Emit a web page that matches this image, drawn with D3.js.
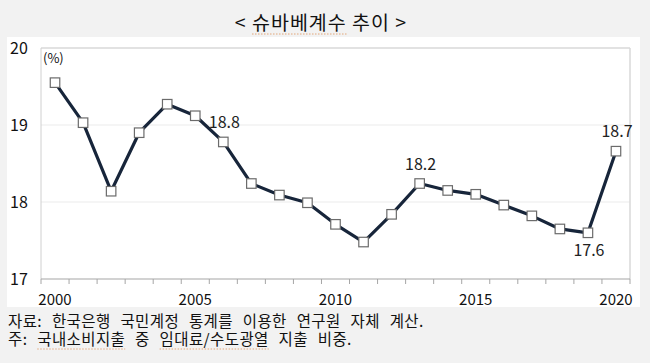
<!DOCTYPE html>
<html>
<head>
<meta charset="utf-8">
<script src="https://cdn.jsdelivr.net/npm/d3@7"></script>
<style>
  html, body { margin: 0; padding: 0; background: #f2f2f2; }
  svg { display: block; font-family: "Noto Sans CJK KR", "Noto Sans", sans-serif; }
</style>
</head>
<body>
<svg id="chart"></svg>
<script>
const width = 650, height = 363;

// data
const years = d3.range(2000, 2021);
const values = [19.55, 19.03, 18.14, 18.90, 19.27, 19.12, 18.78, 18.24, 18.09, 17.99,
                17.71, 17.48, 17.84, 18.24, 18.15, 18.10, 17.96, 17.82, 17.65, 17.60, 18.66];
const yTicks = [17, 18, 19, 20];
const xLabelYears = [2000, 2005, 2010, 2015, 2020];
const callouts = [
  {year: 2006, text: "18.8", pos: "above"},
  {year: 2013, text: "18.2", pos: "above"},
  {year: 2019, text: "17.6", pos: "below"},
  {year: 2020, text: "18.7", pos: "above"}
];
const title = "< 슈바베계수 추이 >";
const notes = ["자료: 한국은행 국민계정 통계를 이용한 연구원 자체 계산.",
               "주: 국내소비지출 중 임대료/수도광열 지출 비중."];

const data = years.map((y, i) => ({year: y, value: values[i]}));

const svg = d3.select("#chart").attr("width", width).attr("height", height);

svg.append("rect").attr("width", width).attr("height", height).attr("fill", "#f2f2f2");
// white chart panel
svg.append("rect").attr("x", 7).attr("y", 37).attr("width", 633).attr("height", 270).attr("fill", "#fff");

const plot = {left: 41, right: 630, top: 48, bottom: 279};

const x = d3.scaleBand().domain(years).range([plot.left, plot.right]).padding(0);
const y = d3.scaleLinear().domain([17, 20]).range([plot.bottom, plot.top]);

// gridlines
svg.append("g")
  .selectAll("line")
  .data(yTicks.filter(d => d > 17))
  .join("line")
  .attr("x1", plot.left).attr("x2", plot.right)
  .attr("y1", d => y(d)).attr("y2", d => y(d))
  .attr("stroke", d => d === 20 ? "#d9d9d9" : "#ebebeb")
  .attr("stroke-width", d => d === 20 ? 1.5 : 1);

// right border
svg.append("line")
  .attr("x1", plot.right).attr("x2", plot.right)
  .attr("y1", plot.top).attr("y2", plot.bottom)
  .attr("stroke", "#d9d9d9").attr("stroke-width", 1.5);

// left axis line
svg.append("line")
  .attr("x1", plot.left).attr("x2", plot.left)
  .attr("y1", plot.top).attr("y2", plot.bottom)
  .attr("stroke", "#d0d0d0").attr("stroke-width", 1);

// y tick labels
svg.append("g")
  .selectAll("text")
  .data(yTicks)
  .join("text")
  .attr("x", 10)
  .attr("y", d => y(d) + 6)
  .attr("font-size", 16)
  .attr("fill", "#111")
  .text(d => d);

// x axis with ticks at band edges
const xAxis = svg.append("g").attr("transform", `translate(0,${plot.bottom})`);
xAxis.append("line")
  .attr("x1", plot.left).attr("x2", plot.right)
  .attr("stroke", "#a6a6a6").attr("stroke-width", 1.2);
xAxis.selectAll(".tick")
  .data(years.concat([2021]))
  .join("line")
  .attr("class", "tick")
  .attr("x1", d => d === 2021 ? plot.right : x(d))
  .attr("x2", d => d === 2021 ? plot.right : x(d))
  .attr("y1", 0).attr("y2", 5)
  .attr("stroke", "#a6a6a6");
xAxis.selectAll("text")
  .data(xLabelYears)
  .join("text")
  .attr("x", d => x(d) + x.bandwidth() / 2)
  .attr("y", 26)
  .attr("text-anchor", "middle")
  .attr("font-size", 15)
  .attr("fill", "#111")
  .text(d => d);

// unit
svg.append("text")
  .attr("x", 43).attr("y", 63)
  .attr("font-size", 13)
  .attr("fill", "#111")
  .text("(%)");

const cx = d => x(d.year) + x.bandwidth() / 2;

// line
svg.append("path")
  .datum(data)
  .attr("fill", "none")
  .attr("stroke", "#17253a")
  .attr("stroke-width", 3.2)
  .attr("stroke-linejoin", "round")
  .attr("d", d3.line().x(cx).y(d => y(d.value)));

// markers
const ms = 9.5;
svg.append("g")
  .selectAll("rect")
  .data(data)
  .join("rect")
  .attr("x", d => cx(d) - ms / 2)
  .attr("y", d => y(d.value) - ms / 2)
  .attr("width", ms).attr("height", ms)
  .attr("fill", "#fff")
  .attr("stroke", "#6b6b6b")
  .attr("stroke-width", 1.2);

// value callouts
svg.append("g")
  .selectAll("text")
  .data(callouts)
  .join("text")
  .attr("x", d => x(d.year) + x.bandwidth() / 2 + 1)
  .attr("y", d => {
    const v = values[years.indexOf(d.year)];
    return d.pos === "above" ? y(v) - 14 : y(v) + 23;
  })
  .attr("text-anchor", "middle")
  .attr("font-size", 16)
  .attr("fill", "#222")
  .text(d => d.text);

// title
const titleText = svg.append("text")
  .attr("x", 321).attr("y", 30)
  .attr("text-anchor", "middle")
  .attr("font-size", 19.5)
  .attr("letter-spacing", 1)
  .attr("fill", "#111")
  .text(title);

// notes
const noteText = svg.selectAll(".note")
  .data(notes)
  .join("text")
  .attr("class", "note")
  .attr("x", 8)
  .attr("y", (d, i) => 326.5 + i * 18.5)
  .attr("font-size", 15.5)
  .attr("letter-spacing", 0.4)
  .attr("word-spacing", 6)
  .attr("fill", "#111")
  .text(d => d);

// dotted spell-check underlines, as in the source image
function squiggle(textNode, word, yPos) {
  const full = textNode.textContent;
  const idx = full.indexOf(word);
  if (idx < 0) return;
  const start = textNode.getStartPositionOfChar(idx).x;
  const end = textNode.getEndPositionOfChar(idx + word.length - 1).x;
  svg.append("line")
    .attr("x1", start).attr("x2", end)
    .attr("y1", yPos).attr("y2", yPos)
    .attr("stroke", "#e3a77a")
    .attr("stroke-width", 1)
    .attr("stroke-dasharray", "1.5,1.5");
}
squiggle(titleText.node(), "슈바베계수", 34);
squiggle(noteText.nodes()[1], "국내소비지출", 349);
squiggle(noteText.nodes()[1], "임대료/수도광열", 349);
</script>
</body>
</html>
